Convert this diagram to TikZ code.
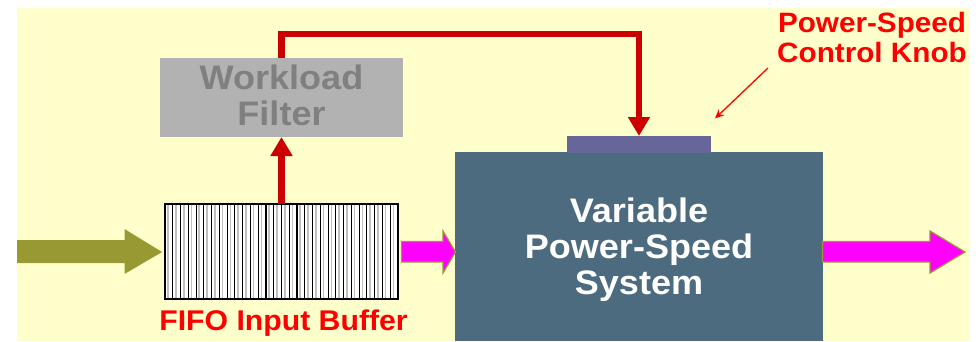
\documentclass[tikz,border=0pt]{standalone}
\usepackage{fontspec}
\setmainfont{Liberation Sans}[FakeStretch=1.06]
\usetikzlibrary{arrows.meta,calc}
\definecolor{bgy}{HTML}{FFFFCC}
\definecolor{filterfill}{HTML}{B2B2B2}
\definecolor{filtertext}{HTML}{808080}
\definecolor{sysfill}{HTML}{4D6B7F}
\definecolor{knobfill}{HTML}{666699}
\definecolor{darkred}{HTML}{CC0000}
\definecolor{olive}{HTML}{999933}
\definecolor{mag}{HTML}{FF00FF}
\tikzset{
  boxnode/.style={rectangle, inner sep=0pt, outer sep=0pt, draw=none},
  feedback/.style={draw=darkred, line width=6.5pt, -{Triangle[width=21pt,length=19pt]}},
  feedbackline/.style={draw=darkred, line width=6.5pt},
  fatolive/.style={fill=olive, draw=none},
  fatmag/.style={fill=mag, draw=olive, line width=1.2pt, line join=miter},
  bigtext/.style={font=\bfseries\fontsize{34}{36}\selectfont, align=center, inner sep=0pt},
  redtext/.style={text=red, font=\bfseries\fontsize{28}{30}\selectfont, align=center, inner sep=0pt},
}
\begin{document}
\begin{tikzpicture}[x=1pt,y=-1pt]
\useasboundingbox (0,0) rectangle (979,341);
\fill[bgy] (17,8) rectangle (970,341);

% system box and knob
\node[boxnode, fill=sysfill, minimum width=368pt, minimum height=189pt] (sys) at (639,246.5) {};
\node[boxnode, fill=knobfill, minimum width=144pt, minimum height=17pt] (knob) at (639,144.5) {};
\node[bigtext, text=white] (systext) at (639,249.5) {Variable\\Power-Speed\\System};

% workload filter
\node[boxnode, fill=filterfill, minimum width=243pt, minimum height=79pt] (filter) at (281.5,97.5) {};
\node[bigtext, text=filtertext] (filtertext) at (281.5,95.5) {Workload\\Filter};

% FIFO buffer
\node[boxnode, fill=white, minimum width=233pt, minimum height=95pt] (fifo) at (281.5,251.5) {};
\foreach \i in {0,...,29} {
  \draw[gray!50, line width=1.6pt] ($(fifo.north west)+({\i*233/30+3.2},1)$) -- ($(fifo.south west)+({\i*233/30+3.2},-1)$);
}
\foreach \i in {1,...,29} {
  \draw[black, line width=1.1pt] ($(fifo.north west)+({\i*233/30},0)$) -- ($(fifo.south west)+({\i*233/30},0)$);
}
\draw[black, line width=1.5pt] (fifo.north west) rectangle (fifo.south east);
\node[redtext, font=\bfseries\fontsize{28.5}{30}\selectfont] (fifolabel) at (283.5,323.5) {FIFO Input Buffer};

% fat arrows
\fill[fatolive] (17,240) -- (124.5,240) -- (124.5,229) -- (162,252) -- (124.5,274) -- (124.5,263) -- (17,263) -- cycle;
\filldraw[fatmag] (401.5,241.5) -- (443,241.5) -- (443,231) -- (455.5,252) -- (443,273) -- (443,262) -- (401.5,262) -- cycle;
\filldraw[fatmag] (822.5,241.5) -- (930,241.5) -- (930,231) -- (965,252) -- (930,273) -- (930,262) -- (822.5,262) -- cycle;

% feedback path
\coordinate (top) at (281.5,34);
\draw[feedback] (fifo.north) -- (filter.south);
\draw[feedbackline] (filter.north) -- (top) -| ($(knob.north)+(0,-19)$);
\draw[feedback, shorten >=0pt] ($(knob.north)+(0,-20)$) -- (knob.north);

% knob label
\node[redtext] (knoblabel) at (872,37) {Power-Speed\\Control Knob};
\coordinate (ls) at (768,68);
\coordinate (kt) at (715,118.5);
\draw[red, line width=1.3pt, -{Stealth[length=9pt,width=8pt]}] (ls) -- (kt);
\end{tikzpicture}
\end{document}
